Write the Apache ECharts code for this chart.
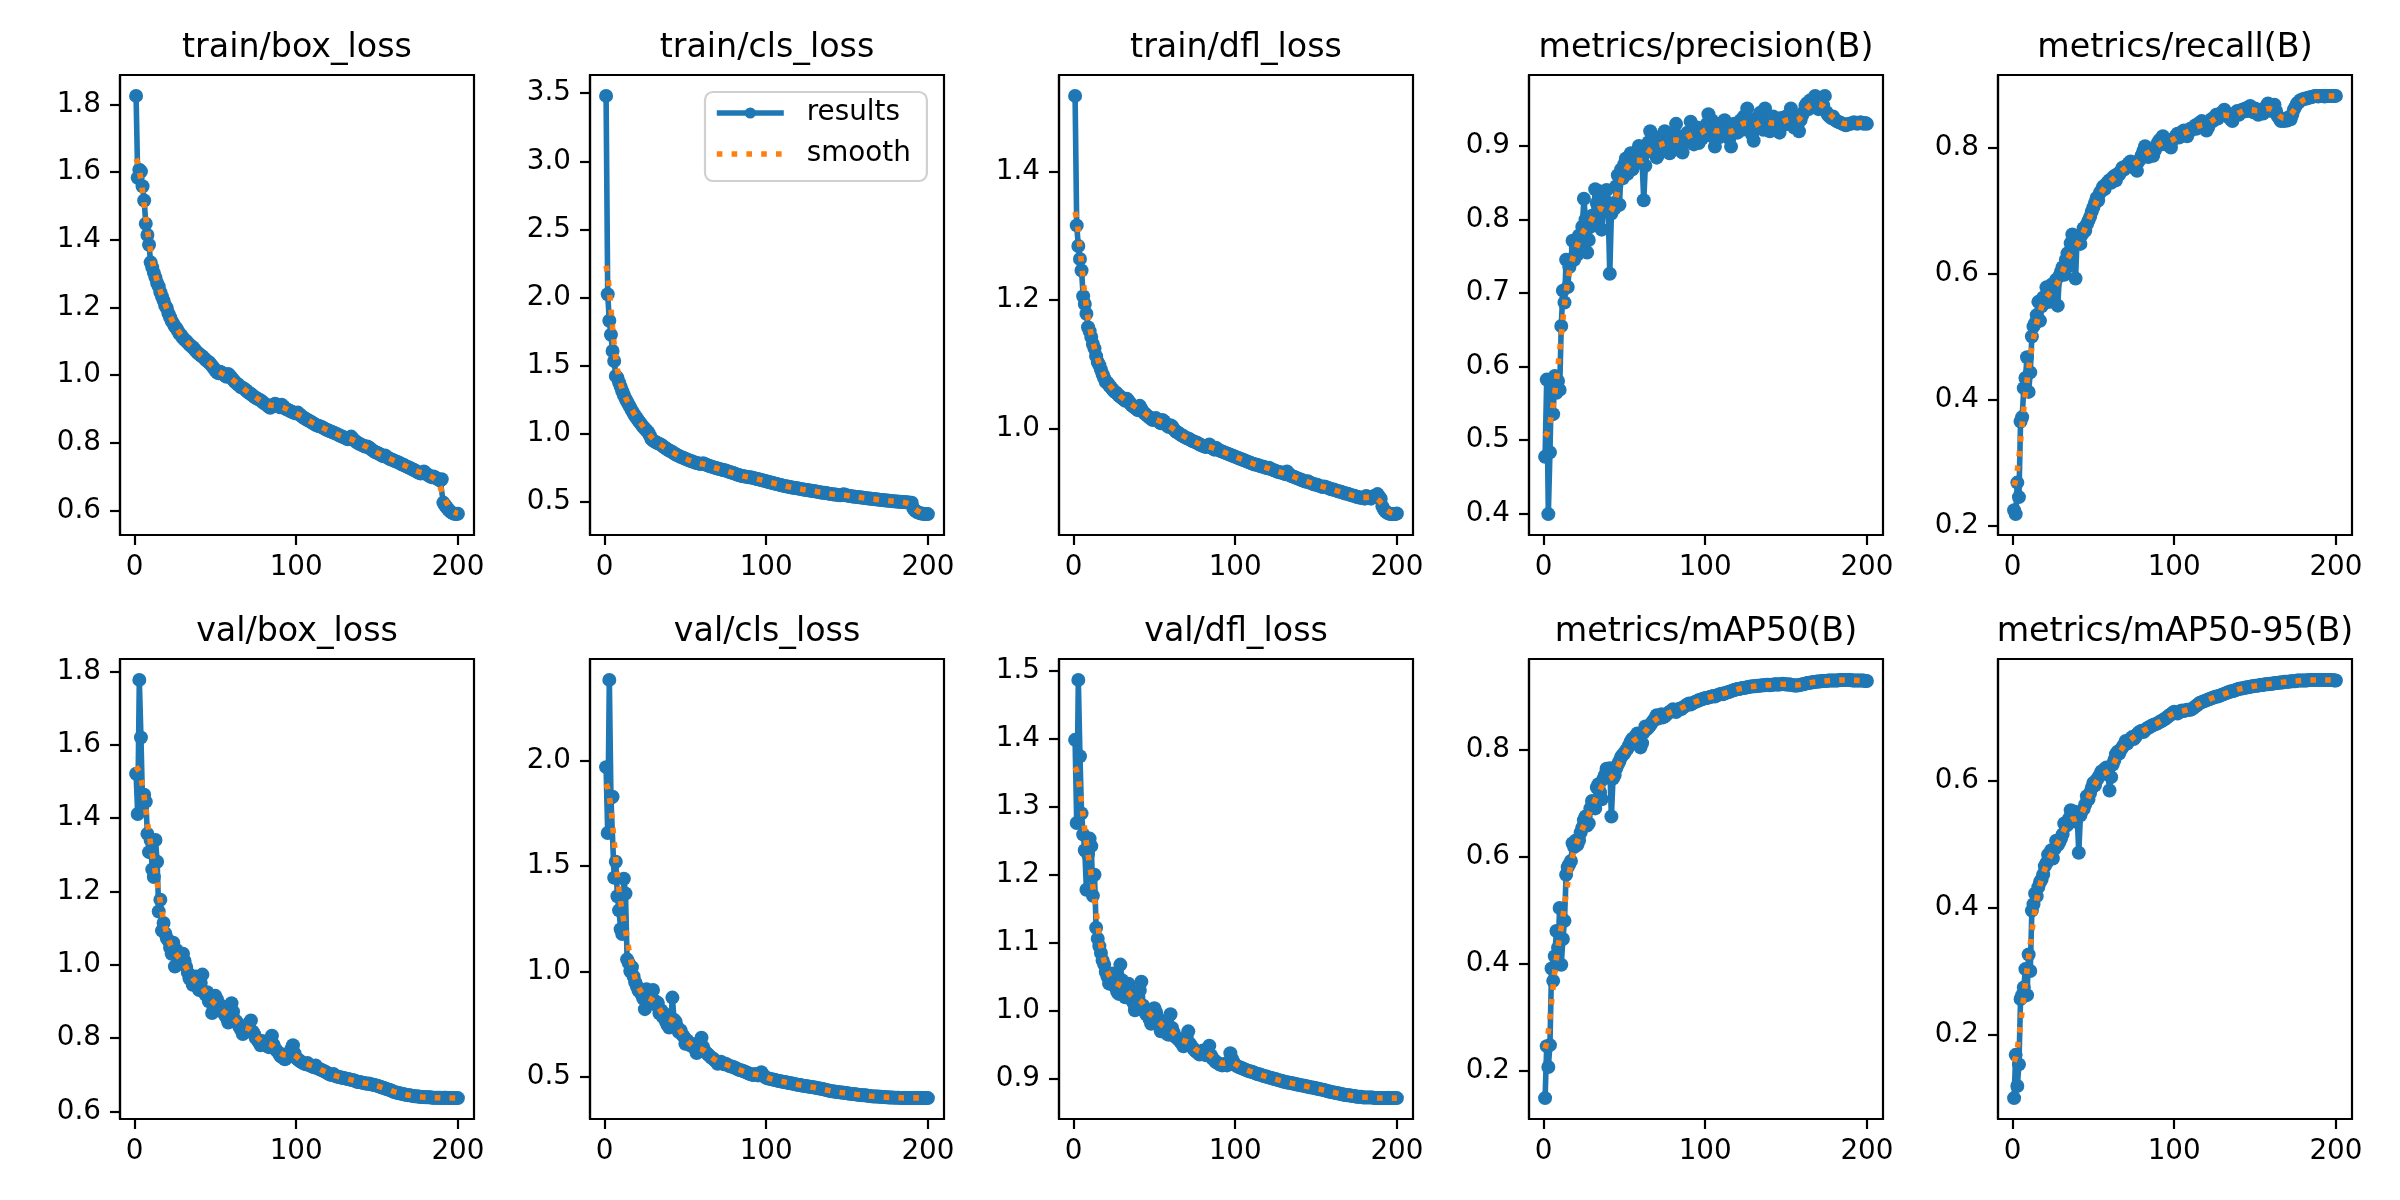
<!DOCTYPE html>
<html>
<head>
<meta charset="utf-8">
<script src="https://cdn.jsdelivr.net/npm/echarts@6/dist/echarts.min.js"></script>
<style>
  html, body { margin: 0; padding: 0; background: #fff; }
  #main { width: 2400px; height: 1200px; }
</style>
</head>
<body>
<div id="main"></div>
<script>
var panelTitles = ['train/box_loss', 'train/cls_loss', 'train/dfl_loss', 'metrics/precision(B)', 'metrics/recall(B)',
  'val/box_loss', 'val/cls_loss', 'val/dfl_loss', 'metrics/mAP50(B)', 'metrics/mAP50-95(B)'];
var xTicks = [0, 100, 200];
var yTicks = [
  [0.6, 0.8, 1.0, 1.2, 1.4, 1.6, 1.8],
  [0.5, 1.0, 1.5, 2.0, 2.5, 3.0, 3.5],
  [1.0, 1.2, 1.4],
  [0.4, 0.5, 0.6, 0.7, 0.8, 0.9],
  [0.2, 0.4, 0.6, 0.8],
  [0.6, 0.8, 1.0, 1.2, 1.4, 1.6, 1.8],
  [0.5, 1.0, 1.5, 2.0],
  [0.9, 1.0, 1.1, 1.2, 1.3, 1.4, 1.5],
  [0.2, 0.4, 0.6, 0.8],
  [0.2, 0.4, 0.6]
];

var epochs = [];
for (var e = 1; e <= 200; e++) epochs.push(e);

var trainBoxLoss = [
  1.825, 1.583, 1.607, 1.602, 1.558, 1.516, 1.447, 1.414, 1.385, 1.333,
  1.318, 1.302, 1.288, 1.272, 1.262, 1.245, 1.232, 1.220, 1.205, 1.198,
  1.182, 1.171, 1.160, 1.152, 1.143, 1.138, 1.129, 1.121, 1.117, 1.109,
  1.104, 1.101, 1.095, 1.090, 1.086, 1.082, 1.077, 1.071, 1.066, 1.062,
  1.058, 1.055, 1.050, 1.045, 1.041, 1.038, 1.033, 1.027, 1.021, 1.014,
  1.008, 1.005, 1.010, 1.007, 1.002, 0.998, 0.995, 1.003, 0.998, 0.992,
  0.986, 0.980, 0.976, 0.972, 0.968, 0.964, 0.962, 0.959, 0.955, 0.950,
  0.947, 0.944, 0.940, 0.936, 0.933, 0.930, 0.928, 0.925, 0.921, 0.917,
  0.914, 0.911, 0.906, 0.903, 0.909, 0.912, 0.915, 0.911, 0.908, 0.905,
  0.912, 0.908, 0.902, 0.899, 0.897, 0.894, 0.892, 0.890, 0.888, 0.886,
  0.889, 0.884, 0.880, 0.876, 0.873, 0.870, 0.867, 0.865, 0.862, 0.859,
  0.856, 0.853, 0.851, 0.849, 0.848, 0.846, 0.843, 0.840, 0.838, 0.836,
  0.834, 0.832, 0.830, 0.828, 0.826, 0.823, 0.821, 0.819, 0.817, 0.815,
  0.812, 0.810, 0.814, 0.818, 0.812, 0.807, 0.803, 0.800, 0.797, 0.795,
  0.792, 0.790, 0.788, 0.789, 0.786, 0.782, 0.778, 0.775, 0.772, 0.770,
  0.768, 0.765, 0.762, 0.760, 0.762, 0.758, 0.755, 0.752, 0.750, 0.748,
  0.746, 0.744, 0.742, 0.740, 0.737, 0.735, 0.733, 0.730, 0.728, 0.726,
  0.724, 0.721, 0.719, 0.716, 0.713, 0.711, 0.709, 0.712, 0.715, 0.710,
  0.706, 0.703, 0.700, 0.698, 0.700, 0.697, 0.694, 0.691, 0.688, 0.692,
  0.623, 0.615, 0.609, 0.603, 0.598, 0.594, 0.591, 0.590, 0.589, 0.590
];
var trainClsLoss = [
  3.480, 2.024, 1.830, 1.727, 1.608, 1.534, 1.425, 1.412, 1.378, 1.346,
  1.312, 1.285, 1.258, 1.236, 1.214, 1.192, 1.170, 1.150, 1.131, 1.114,
  1.096, 1.081, 1.066, 1.050, 1.037, 1.025, 1.012, 0.990, 0.962, 0.952,
  0.944, 0.937, 0.930, 0.926, 0.920, 0.911, 0.902, 0.893, 0.885, 0.878,
  0.872, 0.866, 0.858, 0.850, 0.843, 0.838, 0.832, 0.827, 0.822, 0.817,
  0.812, 0.807, 0.802, 0.798, 0.794, 0.790, 0.786, 0.783, 0.780, 0.778,
  0.784, 0.779, 0.773, 0.768, 0.764, 0.760, 0.756, 0.752, 0.749, 0.746,
  0.742, 0.739, 0.736, 0.733, 0.730, 0.726, 0.722, 0.718, 0.714, 0.710,
  0.706, 0.702, 0.698, 0.694, 0.690, 0.688, 0.686, 0.684, 0.682, 0.681,
  0.679, 0.676, 0.673, 0.670, 0.667, 0.664, 0.661, 0.658, 0.655, 0.652,
  0.648, 0.645, 0.642, 0.639, 0.636, 0.633, 0.630, 0.627, 0.624, 0.621,
  0.618, 0.616, 0.613, 0.611, 0.608, 0.606, 0.604, 0.602, 0.600, 0.598,
  0.596, 0.594, 0.592, 0.590, 0.588, 0.586, 0.584, 0.582, 0.580, 0.578,
  0.576, 0.574, 0.572, 0.570, 0.568, 0.567, 0.565, 0.563, 0.561, 0.559,
  0.557, 0.555, 0.554, 0.552, 0.550, 0.549, 0.553, 0.556, 0.551, 0.547,
  0.545, 0.543, 0.541, 0.540, 0.538, 0.537, 0.535, 0.534, 0.532, 0.531,
  0.529, 0.528, 0.526, 0.525, 0.523, 0.522, 0.520, 0.519, 0.518, 0.516,
  0.515, 0.514, 0.512, 0.511, 0.510, 0.509, 0.507, 0.506, 0.505, 0.504,
  0.503, 0.502, 0.501, 0.500, 0.499, 0.498, 0.497, 0.496, 0.495, 0.494,
  0.452, 0.437, 0.428, 0.422, 0.418, 0.415, 0.413, 0.412, 0.411, 0.411
];
var trainDflLoss = [
  1.517, 1.316, 1.284, 1.264, 1.246, 1.206, 1.194, 1.179, 1.158, 1.152,
  1.143, 1.132, 1.125, 1.113, 1.104, 1.099, 1.092, 1.085, 1.079, 1.073,
  1.072, 1.068, 1.065, 1.062, 1.059, 1.057, 1.055, 1.052, 1.050, 1.048,
  1.046, 1.044, 1.047, 1.044, 1.040, 1.037, 1.035, 1.033, 1.031, 1.029,
  1.036, 1.031, 1.027, 1.024, 1.022, 1.020, 1.018, 1.016, 1.014, 1.016,
  1.017, 1.014, 1.011, 1.009, 1.014, 1.012, 1.008, 1.005, 1.003, 1.006,
  1.004, 1.000, 0.997, 0.995, 0.994, 0.992, 0.990, 0.989, 0.987, 0.986,
  0.985, 0.984, 0.982, 0.981, 0.980, 0.979, 0.978, 0.976, 0.975, 0.974,
  0.973, 0.972, 0.974, 0.976, 0.973, 0.970, 0.968, 0.971, 0.969, 0.967,
  0.966, 0.965, 0.964, 0.963, 0.962, 0.961, 0.960, 0.959, 0.958, 0.957,
  0.956, 0.955, 0.954, 0.953, 0.952, 0.951, 0.950, 0.949, 0.948, 0.947,
  0.946, 0.945, 0.945, 0.944, 0.943, 0.942, 0.942, 0.941, 0.940, 0.939,
  0.940, 0.938, 0.937, 0.936, 0.935, 0.934, 0.933, 0.933, 0.932, 0.931,
  0.930, 0.934, 0.931, 0.928, 0.927, 0.926, 0.925, 0.924, 0.923, 0.922,
  0.921, 0.920, 0.919, 0.918, 0.919, 0.917, 0.916, 0.915, 0.914, 0.914,
  0.913, 0.912, 0.911, 0.910, 0.911, 0.910, 0.909, 0.908, 0.907, 0.906,
  0.906, 0.905, 0.904, 0.903, 0.903, 0.902, 0.901, 0.900, 0.900, 0.899,
  0.898, 0.897, 0.897, 0.896, 0.895, 0.894, 0.894, 0.893, 0.893, 0.892,
  0.896, 0.895, 0.893, 0.892, 0.894, 0.896, 0.897, 0.899, 0.895, 0.892,
  0.880, 0.875, 0.872, 0.870, 0.869, 0.868, 0.868, 0.868, 0.868, 0.869
];
var precision = [
  0.477, 0.582, 0.399, 0.483, 0.580, 0.535, 0.587, 0.564, 0.580, 0.568,
  0.655, 0.703, 0.687, 0.745, 0.708, 0.735, 0.745, 0.771, 0.745, 0.760,
  0.752, 0.778, 0.765, 0.790, 0.828, 0.800, 0.755, 0.772, 0.790, 0.805,
  0.798, 0.841, 0.822, 0.815, 0.838, 0.786, 0.812, 0.826, 0.840, 0.812,
  0.726, 0.808, 0.822, 0.815, 0.845, 0.860, 0.820, 0.868, 0.856, 0.875,
  0.883, 0.862, 0.872, 0.890, 0.868, 0.882, 0.876, 0.893, 0.900, 0.884,
  0.878, 0.826, 0.873, 0.892, 0.905, 0.920, 0.898, 0.910, 0.902, 0.884,
  0.888, 0.912, 0.895, 0.908, 0.920, 0.898, 0.904, 0.890, 0.915, 0.902,
  0.918, 0.930, 0.895, 0.908, 0.900, 0.891, 0.912, 0.905, 0.918, 0.912,
  0.933, 0.920, 0.902, 0.915, 0.925, 0.904, 0.918, 0.910, 0.922, 0.915,
  0.930, 0.943, 0.925, 0.935, 0.912, 0.899, 0.920, 0.930, 0.912, 0.926,
  0.918, 0.935, 0.925, 0.920, 0.910, 0.899, 0.922, 0.930, 0.925, 0.918,
  0.928, 0.935, 0.922, 0.940, 0.930, 0.951, 0.935, 0.925, 0.915, 0.907,
  0.925, 0.938, 0.930, 0.945, 0.932, 0.922, 0.951, 0.935, 0.928, 0.920,
  0.932, 0.940, 0.925, 0.935, 0.930, 0.918, 0.938, 0.928, 0.935, 0.940,
  0.930, 0.942, 0.951, 0.935, 0.925, 0.935, 0.928, 0.920, 0.935, 0.942,
  0.946, 0.955, 0.958, 0.950, 0.962, 0.955, 0.960, 0.968, 0.955, 0.950,
  0.958, 0.962, 0.955, 0.968, 0.946, 0.942, 0.940, 0.938, 0.940, 0.936,
  0.934, 0.933, 0.932, 0.931, 0.930, 0.929, 0.928, 0.929, 0.930, 0.930,
  0.931, 0.932, 0.931, 0.930, 0.931, 0.932, 0.931, 0.930, 0.931, 0.930
];
var recall = [
  0.224, 0.218, 0.268, 0.245, 0.365, 0.372, 0.418, 0.434, 0.467, 0.412,
  0.443, 0.500, 0.516, 0.521, 0.534, 0.555, 0.525, 0.548, 0.562, 0.553,
  0.578, 0.571, 0.555, 0.582, 0.565, 0.583, 0.590, 0.549, 0.596, 0.603,
  0.610, 0.598, 0.622, 0.632, 0.612, 0.648, 0.662, 0.645, 0.592, 0.658,
  0.652, 0.647, 0.662, 0.672, 0.668, 0.678, 0.684, 0.690, 0.698, 0.705,
  0.712, 0.720, 0.716, 0.728, 0.732, 0.738, 0.734, 0.742, 0.745, 0.748,
  0.744, 0.752, 0.755, 0.748, 0.758, 0.757, 0.762, 0.768, 0.765, 0.770,
  0.772, 0.775, 0.778, 0.770, 0.768, 0.772, 0.763, 0.778, 0.782, 0.788,
  0.795, 0.802, 0.790, 0.785, 0.792, 0.796, 0.787, 0.795, 0.802, 0.808,
  0.812, 0.805, 0.818, 0.812, 0.808, 0.804, 0.810, 0.800, 0.812, 0.815,
  0.818, 0.822, 0.816, 0.820, 0.825, 0.827, 0.822, 0.818, 0.825, 0.830,
  0.828, 0.832, 0.835, 0.830, 0.838, 0.836, 0.842, 0.838, 0.833, 0.827,
  0.832, 0.840, 0.845, 0.842, 0.848, 0.852, 0.846, 0.850, 0.855, 0.852,
  0.860, 0.855, 0.850, 0.848, 0.845, 0.842, 0.850, 0.855, 0.858, 0.852,
  0.856, 0.860, 0.857, 0.862, 0.858, 0.864, 0.866, 0.860, 0.856, 0.862,
  0.858, 0.852, 0.856, 0.860, 0.854, 0.862, 0.866, 0.870, 0.864, 0.858,
  0.862, 0.868, 0.858, 0.850, 0.846, 0.842, 0.844, 0.842, 0.846, 0.843,
  0.848, 0.845, 0.852, 0.860, 0.865, 0.870, 0.872, 0.875, 0.876, 0.877,
  0.878, 0.878, 0.879, 0.880, 0.880, 0.881, 0.882, 0.882, 0.881, 0.882,
  0.882, 0.882, 0.881, 0.882, 0.882, 0.882, 0.882, 0.882, 0.882, 0.882
];
var valBoxLoss = [
  1.521, 1.411, 1.777, 1.620, 1.438, 1.464, 1.445, 1.357, 1.307, 1.340,
  1.260, 1.239, 1.340, 1.281, 1.145, 1.177, 1.093, 1.114, 1.085, 1.072,
  1.065, 1.046, 1.030, 1.060, 0.995, 1.040, 1.015, 1.022, 1.005, 1.030,
  1.010, 0.994, 0.978, 0.962, 0.970, 0.945, 0.955, 0.968, 0.940, 0.931,
  0.950, 0.973, 0.925, 0.918, 0.925, 0.900, 0.912, 0.868, 0.880, 0.915,
  0.905, 0.880, 0.890, 0.875, 0.870, 0.862, 0.855, 0.842, 0.860, 0.895,
  0.872, 0.850, 0.845, 0.838, 0.830, 0.822, 0.811, 0.825, 0.832, 0.828,
  0.840, 0.848, 0.818, 0.810, 0.800, 0.795, 0.788, 0.780, 0.792, 0.785,
  0.790, 0.778, 0.775, 0.795, 0.806, 0.782, 0.770, 0.765, 0.760, 0.752,
  0.748, 0.755, 0.742, 0.745, 0.750, 0.758, 0.770, 0.780, 0.758, 0.745,
  0.742, 0.738, 0.735, 0.732, 0.730, 0.728, 0.732, 0.726, 0.724, 0.722,
  0.720, 0.725, 0.718, 0.716, 0.714, 0.712, 0.710, 0.708, 0.705, 0.702,
  0.700, 0.699, 0.702, 0.697, 0.695, 0.694, 0.693, 0.692, 0.691, 0.690,
  0.689, 0.688, 0.687, 0.686, 0.685, 0.684, 0.682, 0.680, 0.680, 0.679,
  0.678, 0.677, 0.676, 0.675, 0.676, 0.674, 0.673, 0.672, 0.671, 0.670,
  0.668, 0.667, 0.665, 0.664, 0.662, 0.661, 0.659, 0.658, 0.656, 0.654,
  0.652, 0.651, 0.650, 0.649, 0.648, 0.647, 0.646, 0.645, 0.644, 0.644,
  0.643, 0.642, 0.641, 0.641, 0.640, 0.640, 0.639, 0.639, 0.639, 0.638,
  0.638, 0.638, 0.638, 0.637, 0.637, 0.637, 0.637, 0.637, 0.637, 0.636,
  0.637, 0.637, 0.637, 0.636, 0.636, 0.636, 0.636, 0.636, 0.636, 0.636
];
var valClsLoss = [
  1.971, 1.658, 2.386, 1.825, 1.830, 1.445, 1.521, 1.357, 1.290, 1.200,
  1.177, 1.440, 1.370, 1.057, 1.040, 1.000, 1.020, 0.975, 0.948, 0.930,
  0.910, 0.902, 0.890, 0.870, 0.820, 0.915, 0.880, 0.855, 0.870, 0.911,
  0.860, 0.839, 0.850, 0.800, 0.815, 0.784, 0.798, 0.760, 0.745, 0.733,
  0.760, 0.875, 0.770, 0.760, 0.735, 0.711, 0.720, 0.700, 0.690, 0.655,
  0.672, 0.660, 0.648, 0.655, 0.640, 0.632, 0.611, 0.625, 0.620, 0.684,
  0.640, 0.620, 0.612, 0.605, 0.598, 0.590, 0.585, 0.578, 0.572, 0.560,
  0.565, 0.570, 0.562, 0.558, 0.560, 0.555, 0.550, 0.548, 0.546, 0.544,
  0.540, 0.536, 0.532, 0.530, 0.528, 0.525, 0.522, 0.518, 0.515, 0.511,
  0.509, 0.507, 0.512, 0.508, 0.505, 0.512, 0.520, 0.508, 0.498, 0.493,
  0.491, 0.489, 0.487, 0.486, 0.484, 0.482, 0.480, 0.478, 0.477, 0.475,
  0.474, 0.472, 0.471, 0.469, 0.468, 0.466, 0.465, 0.463, 0.461, 0.460,
  0.459, 0.457, 0.456, 0.455, 0.453, 0.452, 0.451, 0.450, 0.448, 0.447,
  0.446, 0.444, 0.443, 0.441, 0.440, 0.438, 0.436, 0.434, 0.432, 0.430,
  0.429, 0.428, 0.427, 0.426, 0.425, 0.424, 0.423, 0.422, 0.421, 0.420,
  0.419, 0.418, 0.417, 0.416, 0.415, 0.414, 0.413, 0.412, 0.411, 0.411,
  0.410, 0.409, 0.408, 0.407, 0.406, 0.405, 0.405, 0.404, 0.404, 0.403,
  0.403, 0.402, 0.402, 0.401, 0.401, 0.400, 0.400, 0.400, 0.399, 0.399,
  0.399, 0.399, 0.398, 0.398, 0.398, 0.398, 0.398, 0.398, 0.398, 0.398,
  0.398, 0.398, 0.398, 0.398, 0.398, 0.398, 0.397, 0.397, 0.397, 0.397
];
var valDflLoss = [
  1.398, 1.276, 1.486, 1.374, 1.290, 1.259, 1.236, 1.178, 1.230, 1.253,
  1.242, 1.169, 1.200, 1.122, 1.106, 1.095, 1.085, 1.074, 1.068, 1.057,
  1.050, 1.040, 1.048, 1.055, 1.038, 1.035, 1.028, 1.025, 1.068, 1.045,
  1.032, 1.020, 1.028, 1.040, 1.018, 1.030, 1.012, 1.001, 1.010, 1.020,
  1.030, 1.043, 1.008, 1.000, 0.995, 0.998, 0.988, 0.981, 0.990, 1.004,
  0.998, 0.990, 0.982, 0.970, 0.975, 0.980, 0.972, 0.966, 0.965, 0.995,
  0.975, 0.968, 0.962, 0.960, 0.958, 0.955, 0.952, 0.948, 0.955, 0.962,
  0.970, 0.952, 0.948, 0.945, 0.942, 0.940, 0.938, 0.936, 0.940, 0.942,
  0.938, 0.935, 0.940, 0.949, 0.935, 0.930, 0.928, 0.925, 0.924, 0.922,
  0.921, 0.920, 0.922, 0.921, 0.920, 0.925, 0.938, 0.930, 0.925, 0.921,
  0.919, 0.918, 0.917, 0.916, 0.915, 0.914, 0.913, 0.912, 0.911, 0.911,
  0.910, 0.909, 0.908, 0.907, 0.907, 0.906, 0.905, 0.904, 0.904, 0.903,
  0.902, 0.902, 0.901, 0.900, 0.900, 0.899, 0.898, 0.898, 0.897, 0.896,
  0.896, 0.895, 0.895, 0.894, 0.894, 0.893, 0.893, 0.892, 0.892, 0.891,
  0.891, 0.890, 0.890, 0.889, 0.889, 0.888, 0.888, 0.887, 0.887, 0.886,
  0.886, 0.885, 0.885, 0.884, 0.884, 0.883, 0.882, 0.882, 0.881, 0.881,
  0.880, 0.880, 0.879, 0.879, 0.878, 0.878, 0.877, 0.877, 0.876, 0.876,
  0.876, 0.875, 0.875, 0.875, 0.874, 0.874, 0.874, 0.874, 0.873, 0.873,
  0.873, 0.873, 0.873, 0.873, 0.873, 0.872, 0.872, 0.872, 0.872, 0.872,
  0.872, 0.872, 0.872, 0.872, 0.872, 0.872, 0.872, 0.872, 0.872, 0.872
];
var mAP50 = [
  0.149, 0.246, 0.207, 0.248, 0.391, 0.368, 0.414, 0.461, 0.430, 0.504,
  0.398, 0.446, 0.480, 0.566, 0.580, 0.586, 0.592, 0.625, 0.618, 0.630,
  0.622, 0.630, 0.645, 0.654, 0.668, 0.675, 0.658, 0.662, 0.690, 0.704,
  0.700, 0.690, 0.729, 0.735, 0.720, 0.707, 0.745, 0.752, 0.764, 0.758,
  0.765, 0.675, 0.746, 0.752, 0.765, 0.772, 0.778, 0.786, 0.790, 0.793,
  0.798, 0.802, 0.808, 0.815, 0.820, 0.818, 0.825, 0.830, 0.826, 0.804,
  0.812, 0.832, 0.843, 0.838, 0.842, 0.845, 0.850, 0.854, 0.858, 0.864,
  0.858, 0.862, 0.866, 0.860, 0.862, 0.865, 0.868, 0.870, 0.872, 0.875,
  0.872, 0.870, 0.874, 0.876, 0.875, 0.878, 0.880, 0.882, 0.884, 0.886,
  0.884, 0.886, 0.888, 0.889, 0.890, 0.892, 0.893, 0.894, 0.895, 0.896,
  0.896, 0.897, 0.898, 0.899, 0.900, 0.899, 0.901, 0.902, 0.903, 0.904,
  0.903, 0.905, 0.906, 0.907, 0.908, 0.909, 0.910, 0.911, 0.912, 0.913,
  0.913, 0.914, 0.915, 0.915, 0.916, 0.916, 0.917, 0.917, 0.918, 0.918,
  0.918, 0.919, 0.919, 0.919, 0.920, 0.920, 0.920, 0.921, 0.921, 0.920,
  0.921, 0.921, 0.922, 0.922, 0.921, 0.922, 0.922, 0.923, 0.922, 0.922,
  0.921, 0.922, 0.921, 0.920, 0.920, 0.919, 0.920, 0.920, 0.921, 0.922,
  0.922, 0.923, 0.924, 0.924, 0.925, 0.925, 0.926, 0.926, 0.927, 0.927,
  0.927, 0.928, 0.928, 0.928, 0.928, 0.929, 0.929, 0.929, 0.929, 0.929,
  0.929, 0.929, 0.930, 0.930, 0.930, 0.930, 0.930, 0.930, 0.930, 0.930,
  0.929, 0.929, 0.929, 0.929, 0.929, 0.929, 0.929, 0.929, 0.928, 0.928
];
var mAP5095 = [
  0.100, 0.168, 0.119, 0.153, 0.256, 0.262, 0.274, 0.303, 0.262, 0.326,
  0.300, 0.395, 0.405, 0.422, 0.418, 0.432, 0.440, 0.444, 0.452, 0.465,
  0.470, 0.483, 0.478, 0.490, 0.477, 0.492, 0.505, 0.498, 0.503, 0.508,
  0.515, 0.532, 0.528, 0.530, 0.540, 0.553, 0.548, 0.551, 0.535, 0.545,
  0.486, 0.545, 0.552, 0.555, 0.562, 0.575, 0.570, 0.580, 0.588, 0.596,
  0.592, 0.600, 0.604, 0.608, 0.614, 0.612, 0.618, 0.620, 0.615, 0.584,
  0.605, 0.625, 0.632, 0.641, 0.645, 0.642, 0.648, 0.652, 0.656, 0.662,
  0.658, 0.662, 0.665, 0.668, 0.665, 0.668, 0.672, 0.675, 0.677, 0.678,
  0.676, 0.679, 0.681, 0.683, 0.684, 0.686, 0.687, 0.688, 0.689, 0.690,
  0.692, 0.693, 0.695, 0.696, 0.698, 0.700, 0.702, 0.704, 0.706, 0.708,
  0.706, 0.705, 0.707, 0.709, 0.710, 0.709, 0.710, 0.711, 0.711, 0.711,
  0.712, 0.714, 0.716, 0.718, 0.720, 0.722, 0.723, 0.724, 0.725, 0.726,
  0.727, 0.728, 0.729, 0.730, 0.731, 0.732, 0.732, 0.733, 0.734, 0.735,
  0.736, 0.737, 0.738, 0.739, 0.740, 0.740, 0.741, 0.742, 0.743, 0.744,
  0.744, 0.745, 0.745, 0.746, 0.746, 0.747, 0.747, 0.748, 0.748, 0.749,
  0.749, 0.749, 0.750, 0.750, 0.750, 0.751, 0.751, 0.751, 0.752, 0.752,
  0.752, 0.753, 0.753, 0.753, 0.754, 0.754, 0.754, 0.755, 0.755, 0.755,
  0.755, 0.756, 0.756, 0.756, 0.756, 0.757, 0.757, 0.757, 0.757, 0.757,
  0.757, 0.757, 0.758, 0.758, 0.758, 0.758, 0.758, 0.758, 0.758, 0.758,
  0.758, 0.758, 0.758, 0.758, 0.758, 0.758, 0.758, 0.758, 0.757, 0.757
];

var panelValues = [trainBoxLoss, trainClsLoss, trainDflLoss, precision, recall,
  valBoxLoss, valClsLoss, valDflLoss, mAP50, mAP5095];

// same smoothing as the training script: gaussian, sigma 3, reflect ends
function gaussianSmooth(y, sigma) {
  var r = Math.round(4 * sigma), w = [], sum = 0;
  for (var k = -r; k <= r; k++) { var v = Math.exp(-0.5 * k * k / (sigma * sigma)); w.push(v); sum += v; }
  var n = y.length, out = [];
  for (var i = 0; i < n; i++) {
    var acc = 0;
    for (var k2 = -r; k2 <= r; k2++) {
      var j = i + k2;
      if (j < 0) j = -j - 1;
      if (j >= n) j = 2 * n - j - 1;
      acc += y[j] * w[k2 + r];
    }
    out.push(acc / sum);
  }
  return out;
}

var FONT = 'DejaVu Sans';
var BLUE = '#1f77b4', ORANGE = '#ff7f0e';
var colLeft = [120, 590, 1059, 1529, 1998];
var rowTop = [75, 659];
var W = 354, H = 460;

var grids = [], xAxes = [], yAxes = [], series = [], graphics = [];
var xMin = epochs[0] - 0.05 * (epochs[epochs.length - 1] - epochs[0]);
var xMax = epochs[epochs.length - 1] + 0.05 * (epochs[epochs.length - 1] - epochs[0]);
var axisLine = { show: true, onZero: false, lineStyle: { color: '#000', width: 2.2 } };

panelValues.forEach(function (vals, i) {
  var col = i % 5, row = Math.floor(i / 5);
  var smooth = gaussianSmooth(vals, 3);
  var lo = Math.min.apply(null, vals.concat(smooth));
  var hi = Math.max.apply(null, vals.concat(smooth));
  var pad = 0.05 * (hi - lo);

  grids.push({
    left: colLeft[col], top: rowTop[row], width: W, height: H,
    show: true, borderColor: '#000', borderWidth: 2.2, backgroundColor: '#fff'
  });
  xAxes.push({
    type: 'value', gridIndex: i, min: xMin, max: xMax, position: 'bottom',
    axisLine: axisLine,
    splitLine: { show: false },
    axisTick: { show: true, inside: false, length: 10, customValues: xTicks, lineStyle: { color: '#000', width: 2.2 } },
    axisLabel: { show: true, margin: 19, customValues: xTicks, color: '#000', fontSize: 27.8, fontFamily: FONT,
      formatter: function (v) { return String(v); } }
  });
  yAxes.push({
    type: 'value', gridIndex: i, min: lo - pad, max: hi + pad, position: 'left',
    axisLine: axisLine,
    splitLine: { show: false },
    axisTick: { show: true, inside: false, length: 10, customValues: yTicks[i], lineStyle: { color: '#000', width: 2.2 } },
    axisLabel: { show: true, margin: 19, customValues: yTicks[i], color: '#000', fontSize: 27.8, fontFamily: FONT,
      formatter: function (v) { return v.toFixed(1); } }
  });
  series.push({
    name: 'results', type: 'line', xAxisIndex: i, yAxisIndex: i,
    data: epochs.map(function (ep, k) { return [ep, vals[k]]; }),
    symbol: 'circle', symbolSize: 14, showSymbol: true, showAllSymbol: true,
    lineStyle: { color: BLUE, width: 5.6 }, itemStyle: { color: BLUE },
    z: 2, animation: false, silent: true
  });
  series.push({
    name: 'smooth', type: 'line', xAxisIndex: i, yAxisIndex: i,
    data: epochs.map(function (ep, k) { return [ep, smooth[k]]; }),
    symbol: 'none', showSymbol: false,
    lineStyle: { color: ORANGE, width: 5.6, type: [5.6, 9.2], cap: 'butt' },
    itemStyle: { color: ORANGE },
    z: 3, animation: false, silent: true
  });
  graphics.push({
    type: 'text', x: colLeft[col] + W / 2, y: rowTop[row] - 27,
    style: { text: panelTitles[i], font: '33.3px "' + FONT + '"', fill: '#000', textAlign: 'center', textVerticalAlign: 'middle' }
  });
});

var chart = echarts.init(document.getElementById('main'), null, { renderer: 'canvas' });
chart.setOption({
  backgroundColor: '#fff',
  animation: false,
  grid: grids,
  xAxis: xAxes,
  yAxis: yAxes,
  series: series,
  graphic: graphics,
  legend: {
    data: [
      { name: 'results', itemStyle: { color: BLUE }, lineStyle: { color: BLUE, width: 5.6 } },
      { name: 'smooth', itemStyle: { opacity: 0 }, lineStyle: { color: ORANGE, width: 5.6, type: [5.6, 9.2], cap: 'butt' } }
    ],
    orient: 'vertical',
    left: 705, top: 92,
    padding: [7, 16, 13, 9],
    itemGap: 13,
    itemWidth: 67, itemHeight: 14,
    backgroundColor: 'rgba(255,255,255,0.8)',
    borderColor: '#d0d0d0', borderWidth: 2.2, borderRadius: 8,
    formatter: function (name) { return '{t|' + name + '}'; },
    textStyle: {
      color: '#000', fontSize: 27.8, fontFamily: FONT,
      rich: { t: { color: '#000', fontSize: 27.8, fontFamily: FONT, lineHeight: 32, padding: [0, 0, 0, 18] } }
    },
    selectedMode: false
  }
});
</script>
</body>
</html>
